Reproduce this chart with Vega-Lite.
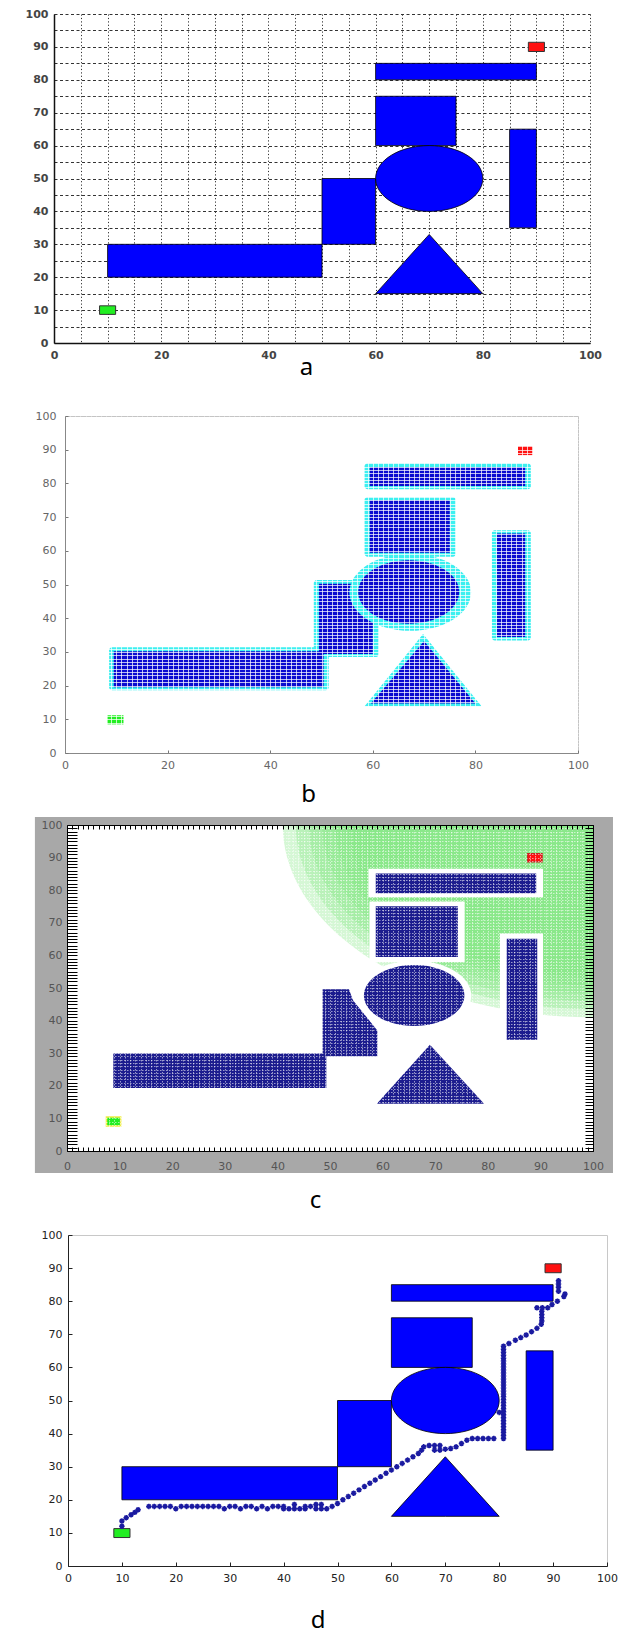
{
"$schema":"https://vega.github.io/schema/vega-lite/v6.json",
"background":"white",
"padding":{"left":5,"top":8,"right":5,"bottom":0},
"spacing":10,
"config":{"view":{"stroke":null},"axis":{"labelFont":"DejaVu Sans","labelFontSize":11,"titleFont":"Noto Sans","titleFontSize":24,"titleFontWeight":"normal","titleColor":"#000","labelFlush":false,"labelOverlap":false,"titleBaseline":"top","titleAlign":"center"}},
"vconcat":[
{"spacing":0,"hconcat":[
{"width":4,"height":10,"data":{"values":[]},"mark":"rect"},
{
"width":536,"height":329,
"encoding":{
 "x":{"field":"x","type":"quantitative","scale":{"domain":[0,100],"nice":false,"zero":false},"axis":{"tickCount":20,"grid":true,"gridColor":"#333","gridDash":[1.2,2.2],"gridWidth":1,"ticks":false,"domainColor":"#111","domainWidth":1.5,"labelExpr":"datum.value % 20 === 0 ? datum.label : ''","labelFontWeight":"bold","labelColor":"#444","labelPadding":6,"title":["a"," "],"titleX":252,"titleY":12.5,"titleLineHeight":19.5}},
 "y":{"field":"y","type":"quantitative","scale":{"domain":[0,100],"nice":false,"zero":false},"axis":{"tickCount":20,"grid":true,"gridColor":"#333","gridDash":[3,2.5],"gridWidth":1,"ticks":false,"domainColor":"#111","domainWidth":1.5,"labelExpr":"datum.value % 10 === 0 ? datum.label : ''","labelFontWeight":"bold","labelColor":"#444","labelPadding":6,"minExtent":45,"title":null}}
},
"layer":[
 {"data":{"values":[{"x":10,"x2":50,"y":20,"y2":30},{"x":50,"x2":60,"y":30,"y2":50},{"x":60,"x2":75,"y":60,"y2":75},{"x":60,"x2":90,"y":80,"y2":85},{"x":85,"x2":90,"y":35,"y2":65}]},
  "mark":{"type":"rect","fill":"#0000ff","stroke":"#000","strokeWidth":0.8},
  "encoding":{"x2":{"field":"x2"},"y2":{"field":"y2"}}},
 {"data":{"values":[{"x":70,"y":50}]},
  "mark":{"type":"point","shape":"M-1,0C-1,-0.339,-0.552,-0.614,0,-0.614C0.552,-0.614,1,-0.339,1,0C1,0.339,0.552,0.614,0,0.614C-0.552,0.614,-1,0.339,-1,0Z","size":11490,"filled":true,"color":"#0000ff","stroke":"#000","strokeWidth":0.8,"opacity":1}},
 {"data":{"values":[{"x":60,"y":15,"y2":15},{"x":70,"y":33,"y2":15},{"x":80,"y":15,"y2":15}]},
  "mark":{"type":"area","color":"#0000ff","stroke":"#000","strokeWidth":0.8,"opacity":1},
  "encoding":{"y2":{"field":"y2"}}},
 {"data":{"values":[{"x":8.5,"x2":11.5,"y":8.7,"y2":11.3,"c":"start"},{"x":88.5,"x2":91.5,"y":88.6,"y2":91.4,"c":"goal"}]},
  "mark":{"type":"rect","stroke":"#333","strokeWidth":1},
  "encoding":{"x2":{"field":"x2"},"y2":{"field":"y2"},"fill":{"field":"c","type":"nominal","scale":{"domain":["start","goal"],"range":["#22ee22","#ff1111"]},"legend":null}}}
]
}]},
{"spacing":0,"hconcat":[
{"width":14,"height":10,"data":{"values":[]},"mark":"rect"},
{
"width":513,"height":337,
"view":{"stroke":"#c4c4c4"},
"encoding":{
 "x":{"field":"x","type":"quantitative","scale":{"domain":[0,100],"nice":false,"zero":false},"axis":{"zindex":1,"tickCount":100,"grid":true,"gridColor":"#ffffff","gridWidth":0.8,"gridOpacity":{"condition":{"test":"datum.value === 0 || datum.value === 100","value":0},"value":0.9},"ticks":true,"tickSize":-3,"tickColor":"#777","tickOpacity":{"condition":{"test":"datum.value % 20 === 0","value":1},"value":0},"domainColor":"#888","labelExpr":"datum.value % 20 === 0 ? datum.label : ''","labelColor":"#666","labelPadding":9.3,"title":"b","titleX":243,"titleY":29}},
 "y":{"field":"y","type":"quantitative","scale":{"domain":[0,100],"nice":false,"zero":false},"axis":{"zindex":1,"tickCount":100,"grid":true,"gridColor":"#ffffff","gridWidth":0.8,"gridOpacity":{"condition":{"test":"datum.value === 0 || datum.value === 100","value":0},"value":0.9},"ticks":true,"tickSize":-3,"tickColor":"#777","tickOpacity":{"condition":{"test":"datum.value % 10 === 0","value":1},"value":0},"domainColor":"#888","labelExpr":"datum.value % 10 === 0 ? datum.label : ''","labelColor":"#666","labelPadding":12,"minExtent":45,"title":null}}
},
"layer":[
 {"data":{"values":[{"x":8.6,"x2":51.4,"y":18.6,"y2":31.4},{"x":48.5,"x2":61.2,"y":28.5,"y2":51.3},{"x":58.4,"x2":76.2,"y":58.2,"y2":76},{"x":58.4,"x2":90.8,"y":78.3,"y2":86},{"x":83.2,"x2":90.8,"y":33.4,"y2":66.1}]},
  "mark":{"type":"rect","fill":"#3cf0f0","cornerRadius":3},
  "encoding":{"x2":{"field":"x2"},"y2":{"field":"y2"}}},
 {"data":{"values":[{"x":9.5,"x2":50.4,"y":19.5,"y2":30.2},{"x":49.5,"x2":60,"y":29.4,"y2":50.2},{"x":59.4,"x2":75,"y":59.4,"y2":75},{"x":59.4,"x2":89.7,"y":79.2,"y2":84.9},{"x":84.2,"x2":89.7,"y":34.4,"y2":65.1}]},
  "mark":{"type":"rect","fill":"#0c0cd0"},
  "encoding":{"x2":{"field":"x2"},"y2":{"field":"y2"}}},
 {"data":{"values":[{"x":67.3,"y":47.7}]},
  "mark":{"type":"point","shape":"M-1,0C-1,-0.351,-0.552,-0.635,0,-0.635C0.552,-0.635,1,-0.351,1,0C1,0.351,0.552,0.635,0,0.635C-0.552,0.635,-1,0.351,-1,0Z","size":14787,"filled":true,"color":"#3cf0f0","opacity":1}},
 {"data":{"values":[{"x":67.0,"y":47.8}]},
  "mark":{"type":"point","shape":"M-1,0C-1,-0.347,-0.552,-0.628,0,-0.628C0.552,-0.628,1,-0.347,1,0C1,0.347,0.552,0.628,0,0.628C-0.552,0.628,-1,0.347,-1,0Z","size":10201,"filled":true,"color":"#0c0cd0","opacity":1}},
 {"data":{"values":[{"x":58.4,"y":13.9,"y2":13.9},{"x":69.8,"y":35.3,"y2":13.9},{"x":81.2,"y":13.9,"y2":13.9}]},
  "mark":{"type":"area","color":"#3cf0f0","opacity":1},
  "encoding":{"y2":{"field":"y2"}}},
 {"data":{"values":[{"x":59.6,"y":14.7,"y2":14.7},{"x":70,"y":33.2,"y2":14.7},{"x":80,"y":14.7,"y2":14.7}]},
  "mark":{"type":"area","color":"#0c0cd0","opacity":1},
  "encoding":{"y2":{"field":"y2"}}},
 {"data":{"values":[{"x":8.3,"x2":11.4,"y":8.5,"y2":11.2,"c":"start"},{"x":88.3,"x2":91.2,"y":88.4,"y2":91.1,"c":"goal"}]},
  "mark":{"type":"rect"},
  "encoding":{"x2":{"field":"x2"},"y2":{"field":"y2"},"fill":{"field":"c","type":"nominal","scale":{"domain":["start","goal"],"range":["#30d830","#d82020"]},"legend":null}}}
]
}]},
{"spacing":0,"hconcat":[
{"width":17,"height":10,"data":{"values":[]},"mark":"rect"},
{
"width":526,"height":326,
"resolve":{"axis":{"x":"independent","y":"independent"}},
"layer":[
 {"data":{"values":[{"x":-6.1,"x2":103.8,"y":-6.75,"y2":102.45}]},
  "mark":{"type":"rect","fill":"#a8a8a8"},
  "encoding":{
   "x":{"field":"x","type":"quantitative","scale":{"domain":[0,100],"nice":false,"zero":false},"axis":{"orient":"bottom","zindex":1,"tickCount":100,"format":"d","grid":false,"ticks":true,"tickSize":-4,"tickColor":"#000","domainColor":"#000","labelExpr":"datum.value % 10 === 0 ? datum.label : ''","labelColor":"#555","labelPadding":13,"title":["c"," "],"titleX":248,"titleY":37,"titleLineHeight":6}},
   "x2":{"field":"x2"},
   "y":{"field":"y","type":"quantitative","scale":{"domain":[0,100],"nice":false,"zero":false},"axis":{"orient":"left","zindex":1,"tickCount":200,"format":"d","grid":false,"ticks":true,"tickSize":-10,"tickColor":"#000","domainColor":"#000","labelExpr":"datum.value % 10 === 0 ? datum.label : ''","labelColor":"#555","labelPadding":15,"minExtent":45,"title":null}},
   "y2":{"field":"y2"}}},
 {"data":{"values":[{"x":0,"x2":100,"y":0,"y2":100}]},
  "mark":{"type":"rect","fill":"#ffffff"},
  "encoding":{
   "x":{"field":"x","type":"quantitative","scale":{"domain":[0,100],"nice":false,"zero":false},"axis":{"orient":"top","zindex":1,"tickCount":100,"grid":true,"gridColor":"#ffffff","gridWidth":0.7,"gridOpacity":0.8,"gridDash":[1.5,1.5],"ticks":true,"tickSize":-4,"tickColor":"#000","domainColor":"#000","labels":false,"title":null}},
   "x2":{"field":"x2"},
   "y":{"field":"y","type":"quantitative","scale":{"domain":[0,100],"nice":false,"zero":false},"axis":{"orient":"right","zindex":1,"tickCount":100,"grid":true,"gridColor":"#ffffff","gridWidth":0.7,"gridOpacity":0.8,"gridDash":[1.5,1.5],"ticks":true,"tickSize":-8,"tickColor":"#000","domainColor":"#000","labels":false,"title":null}},
   "y2":{"field":"y2"}}},
 {"data":{"values":[{"x":100,"y":100}]},
  "mark":{"type":"point","clip":true,"shape":"M-1,0C-1,-0.342,-0.552,-0.62,0,-0.62C0.552,-0.62,1,-0.342,1,0C1,0.342,0.552,0.62,0,0.62C-0.552,0.62,-1,0.342,-1,0Z","size":385000,"filled":true,"color":"#7ee67e","opacity":0.33},
  "encoding":{"x":{"field":"x","type":"quantitative","scale":{"domain":[0,100],"nice":false,"zero":false},"axis":null},"y":{"field":"y","type":"quantitative","scale":{"domain":[0,100],"nice":false,"zero":false},"axis":null}}},
 {"data":{"values":[{"x":100,"y":100}]},
  "mark":{"type":"point","clip":true,"shape":"M-1,0C-1,-0.342,-0.552,-0.62,0,-0.62C0.552,-0.62,1,-0.342,1,0C1,0.342,0.552,0.62,0,0.62C-0.552,0.62,-1,0.342,-1,0Z","size":353300,"filled":true,"color":"#7ee67e","opacity":0.33},
  "encoding":{"x":{"field":"x","type":"quantitative","scale":{"domain":[0,100],"nice":false,"zero":false},"axis":null},"y":{"field":"y","type":"quantitative","scale":{"domain":[0,100],"nice":false,"zero":false},"axis":null}}},
 {"data":{"values":[{"x":100,"y":100}]},
  "mark":{"type":"point","clip":true,"shape":"M-1,0C-1,-0.342,-0.552,-0.62,0,-0.62C0.552,-0.62,1,-0.342,1,0C1,0.342,0.552,0.62,0,0.62C-0.552,0.62,-1,0.342,-1,0Z","size":322700,"filled":true,"color":"#7ee67e","opacity":0.33},
  "encoding":{"x":{"field":"x","type":"quantitative","scale":{"domain":[0,100],"nice":false,"zero":false},"axis":null},"y":{"field":"y","type":"quantitative","scale":{"domain":[0,100],"nice":false,"zero":false},"axis":null}}},
 {"data":{"values":[{"x":100,"y":100}]},
  "mark":{"type":"point","clip":true,"shape":"M-1,0C-1,-0.342,-0.552,-0.62,0,-0.62C0.552,-0.62,1,-0.342,1,0C1,0.342,0.552,0.62,0,0.62C-0.552,0.62,-1,0.342,-1,0Z","size":293500,"filled":true,"color":"#7ee67e","opacity":0.33},
  "encoding":{"x":{"field":"x","type":"quantitative","scale":{"domain":[0,100],"nice":false,"zero":false},"axis":null},"y":{"field":"y","type":"quantitative","scale":{"domain":[0,100],"nice":false,"zero":false},"axis":null}}},
 {"data":{"values":[{"x":100,"y":100}]},
  "mark":{"type":"point","clip":true,"shape":"M-1,0C-1,-0.342,-0.552,-0.62,0,-0.62C0.552,-0.62,1,-0.342,1,0C1,0.342,0.552,0.62,0,0.62C-0.552,0.62,-1,0.342,-1,0Z","size":265700,"filled":true,"color":"#7ee67e","opacity":0.33},
  "encoding":{"x":{"field":"x","type":"quantitative","scale":{"domain":[0,100],"nice":false,"zero":false},"axis":null},"y":{"field":"y","type":"quantitative","scale":{"domain":[0,100],"nice":false,"zero":false},"axis":null}}},
 {"data":{"values":[{"x":100,"y":100}]},
  "mark":{"type":"point","clip":true,"shape":"M-1,0C-1,-0.342,-0.552,-0.62,0,-0.62C0.552,-0.62,1,-0.342,1,0C1,0.342,0.552,0.62,0,0.62C-0.552,0.62,-1,0.342,-1,0Z","size":239200,"filled":true,"color":"#7ee67e","opacity":0.33},
  "encoding":{"x":{"field":"x","type":"quantitative","scale":{"domain":[0,100],"nice":false,"zero":false},"axis":null},"y":{"field":"y","type":"quantitative","scale":{"domain":[0,100],"nice":false,"zero":false},"axis":null}}},
 {"data":{"values":[{"x":57.5,"x2":75.6,"y":58,"y2":76.5},{"x":57.3,"x2":90.5,"y":77.8,"y2":86.6},{"x":82.3,"x2":90.5,"y":33,"y2":66.7}]},
  "mark":{"type":"rect","fill":"#ffffff"},
  "encoding":{"x":{"field":"x","type":"quantitative","scale":{"domain":[0,100],"nice":false,"zero":false},"axis":null},"x2":{"field":"x2"},"y":{"field":"y","type":"quantitative","scale":{"domain":[0,100],"nice":false,"zero":false},"axis":null},"y2":{"field":"y2"}}},
 {"data":{"values":[{"x":66,"y":47.7}]},
  "mark":{"type":"point","shape":"M-1,0C-1,-0.336,-0.552,-0.608,0,-0.608C0.552,-0.608,1,-0.336,1,0C1,0.336,0.552,0.608,0,0.608C-0.552,0.608,-1,0.336,-1,0Z","size":13042,"filled":true,"color":"#ffffff","opacity":1},
  "encoding":{"x":{"field":"x","type":"quantitative","scale":{"domain":[0,100],"nice":false,"zero":false},"axis":null},"y":{"field":"y","type":"quantitative","scale":{"domain":[0,100],"nice":false,"zero":false},"axis":null}}},
 {"data":{"values":[{"x":8.8,"x2":49.3,"y":19.3,"y2":29.9},{"x":58.7,"x2":74.3,"y":59.5,"y2":75.1},{"x":58.7,"x2":89.2,"y":79.1,"y2":85.1},{"x":83.6,"x2":89.4,"y":34.1,"y2":65.1}]},
  "mark":{"type":"rect","fill":"#1c1c8e"},
  "encoding":{"x":{"field":"x","type":"quantitative","scale":{"domain":[0,100],"nice":false,"zero":false},"axis":null},"x2":{"field":"x2"},"y":{"field":"y","type":"quantitative","scale":{"domain":[0,100],"nice":false,"zero":false},"axis":null},"y2":{"field":"y2"}}},
 {"data":{"values":[{"x":48.6,"y":49.6,"y2":29.1},{"x":53.6,"y":49.6,"y2":29.1},{"x":54.4,"y":46.2,"y2":29.1},{"x":59,"y":37,"y2":29.1}]},
  "mark":{"type":"area","color":"#1c1c8e","opacity":1},
  "encoding":{"x":{"field":"x","type":"quantitative","scale":{"domain":[0,100],"nice":false,"zero":false},"axis":null},"y":{"field":"y","type":"quantitative","scale":{"domain":[0,100],"nice":false,"zero":false},"axis":null},"y2":{"field":"y2"}}},
 {"data":{"values":[{"x":66,"y":47.7}]},
  "mark":{"type":"point","shape":"M-1,0C-1,-0.335,-0.552,-0.607,0,-0.607C0.552,-0.607,1,-0.335,1,0C1,0.335,0.552,0.607,0,0.607C-0.552,0.607,-1,0.335,-1,0Z","size":10100,"filled":true,"color":"#1c1c8e","opacity":1},
  "encoding":{"x":{"field":"x","type":"quantitative","scale":{"domain":[0,100],"nice":false,"zero":false},"axis":null},"y":{"field":"y","type":"quantitative","scale":{"domain":[0,100],"nice":false,"zero":false},"axis":null}}},
 {"data":{"values":[{"x":58.9,"y":14.5,"y2":14.5},{"x":69,"y":32.6,"y2":14.5},{"x":79.3,"y":14.5,"y2":14.5}]},
  "mark":{"type":"area","color":"#1c1c8e","opacity":1},
  "encoding":{"x":{"field":"x","type":"quantitative","scale":{"domain":[0,100],"nice":false,"zero":false},"axis":null},"y":{"field":"y","type":"quantitative","scale":{"domain":[0,100],"nice":false,"zero":false},"axis":null},"y2":{"field":"y2"}}},
 {"data":{"values":[{"x":7.5,"x2":10.2,"y":7.7,"y2":10.4,"c":"start"},{"x":87.6,"x2":90.3,"y":88.7,"y2":91.2,"c":"goal"}]},
  "mark":{"type":"rect","strokeWidth":1.5},
  "encoding":{"x":{"field":"x","type":"quantitative","scale":{"domain":[0,100],"nice":false,"zero":false},"axis":null},"x2":{"field":"x2"},"y":{"field":"y","type":"quantitative","scale":{"domain":[0,100],"nice":false,"zero":false},"axis":null},"y2":{"field":"y2"},
   "fill":{"field":"c","type":"nominal","scale":{"domain":["start","goal"],"range":["#ffff55","#66e0e0"]},"legend":null},
   "stroke":{"field":"c","type":"nominal","scale":{"domain":["start","goal"],"range":["#eeee44","#cc2222"]},"legend":null}}}
]
}]},
{"spacing":0,"hconcat":[
{"width":17,"height":10,"data":{"values":[]},"mark":"rect"},
{
"width":539,"height":331,
"view":{"stroke":"#c8c8c8"},
"encoding":{
 "x":{"field":"x","type":"quantitative","scale":{"domain":[0,100],"nice":false,"zero":false},"axis":{"tickCount":10,"grid":false,"ticks":true,"tickSize":-4,"tickColor":"#222","domainColor":"#222","labelColor":"#222","labelPadding":10.3,"title":"d","titleX":249.6,"titleY":42}},
 "y":{"field":"y","type":"quantitative","scale":{"domain":[0,100],"nice":false,"zero":false},"axis":{"tickCount":10,"grid":false,"ticks":true,"tickSize":-4,"tickColor":"#222","domainColor":"#222","labelColor":"#222","labelPadding":10,"minExtent":45,"title":null}}
},
"layer":[
 {"data":{"values":[{"x":10,"x2":50,"y":20,"y2":30},{"x":50,"x2":60,"y":30,"y2":50},{"x":60,"x2":75,"y":60,"y2":75},{"x":60,"x2":90,"y":80,"y2":85},{"x":85,"x2":90,"y":35,"y2":65}]},
  "mark":{"type":"rect","fill":"#0000ff","stroke":"#000","strokeWidth":0.8},
  "encoding":{"x2":{"field":"x2"},"y2":{"field":"y2"}}},
 {"data":{"values":[{"x":70,"y":50}]},
  "mark":{"type":"point","shape":"M-1,0C-1,-0.339,-0.552,-0.614,0,-0.614C0.552,-0.614,1,-0.339,1,0C1,0.339,0.552,0.614,0,0.614C-0.552,0.614,-1,0.339,-1,0Z","size":11621,"filled":true,"color":"#0000ff","stroke":"#000","strokeWidth":0.8,"opacity":1}},
 {"data":{"values":[{"x":60,"y":15,"y2":15},{"x":70,"y":33,"y2":15},{"x":80,"y":15,"y2":15}]},
  "mark":{"type":"area","color":"#0000ff","stroke":"#000","strokeWidth":0.8,"opacity":1},
  "encoding":{"y2":{"field":"y2"}}},
 {"data":{"values":[{"x":8.5,"x2":11.5,"y":8.6,"y2":11.3,"c":"start"},{"x":88.5,"x2":91.5,"y":88.6,"y2":91.3,"c":"goal"}]},
  "mark":{"type":"rect","stroke":"#333","strokeWidth":1},
  "encoding":{"x2":{"field":"x2"},"y2":{"field":"y2"},"fill":{"field":"c","type":"nominal","scale":{"domain":["start","goal"],"range":["#22ee22","#ff1111"]},"legend":null}}},
 {"data":{"values":[
  {"x":10,"y":12},{"x":10,"y":13.6},{"x":10.8,"y":14.6},{"x":11.7,"y":15.5},{"x":12.4,"y":16.2},{"x":13,"y":17},
  {"x":15,"y":18},{"x":16,"y":18},{"x":17,"y":18},{"x":18,"y":18},{"x":19,"y":18},{"x":20,"y":17.3},{"x":21,"y":18},{"x":22,"y":18},{"x":23,"y":18},{"x":24,"y":18},{"x":25,"y":18},{"x":26,"y":18},{"x":27,"y":18},{"x":28,"y":18},{"x":29,"y":17.3},{"x":30,"y":18},{"x":31,"y":18},{"x":32,"y":17.3},{"x":33,"y":18},{"x":34,"y":18},{"x":35,"y":17.3},{"x":36,"y":18},{"x":37,"y":17.3},{"x":38,"y":18},{"x":39,"y":18},{"x":40,"y":18},{"x":40,"y":17.3},{"x":41,"y":17.3},{"x":42,"y":18.6},{"x":42,"y":17.3},{"x":43,"y":17.3},{"x":44,"y":18},{"x":44,"y":17.3},{"x":45,"y":18},{"x":46,"y":18.6},{"x":46,"y":17.3},{"x":47,"y":18.6},{"x":47,"y":17.3},{"x":48,"y":17.3},{"x":49,"y":18},
  {"x":50,"y":18.9},{"x":51,"y":20},{"x":52,"y":21},{"x":53,"y":22},{"x":54,"y":23},{"x":55,"y":24},{"x":56,"y":25},{"x":57,"y":26},{"x":58,"y":27},{"x":59,"y":28},{"x":60,"y":29},{"x":61,"y":30},{"x":62,"y":31},{"x":63,"y":32},{"x":64,"y":33},{"x":65,"y":34},{"x":65.6,"y":35},{"x":66,"y":36},{"x":67,"y":36.4},{"x":68,"y":36.4},{"x":68,"y":35},{"x":69,"y":36.4},{"x":69,"y":35},{"x":70,"y":35.3},{"x":71,"y":35.5},{"x":72,"y":36},{"x":73,"y":37},{"x":74,"y":38},{"x":75,"y":38.5},{"x":76,"y":38.5},{"x":77,"y":38.5},{"x":78,"y":38.5},{"x":79,"y":38.5},
  {"x":80.8,"y":38.5},{"x":80.8,"y":39.4},{"x":80.8,"y":40.3},{"x":80.8,"y":41.2},{"x":80.8,"y":42.1},{"x":80.8,"y":43},{"x":80.8,"y":43.9},{"x":80.8,"y":44.8},{"x":80.8,"y":45.7},{"x":80,"y":46.4},{"x":80.8,"y":46.6},{"x":80.8,"y":47.5},{"x":80.8,"y":48.4},{"x":80.8,"y":49.3},{"x":80.8,"y":50.2},{"x":80.8,"y":51.1},{"x":80.8,"y":52},{"x":80.8,"y":52.9},{"x":80.8,"y":53.8},{"x":80.8,"y":54.7},{"x":80.8,"y":55.6},{"x":80.8,"y":56.5},{"x":80.8,"y":57.4},{"x":80.8,"y":58.3},{"x":80.8,"y":59.2},{"x":80.8,"y":60.1},{"x":80.8,"y":61},{"x":80.8,"y":61.9},{"x":80.8,"y":62.8},{"x":80.8,"y":63.7},{"x":80.8,"y":64.6},{"x":80.8,"y":65.5},{"x":80.8,"y":66.4},
  {"x":81.8,"y":67.2},{"x":83,"y":68.2},{"x":84,"y":69},{"x":85,"y":69.8},{"x":86,"y":70.8},{"x":87,"y":71.8},{"x":87.8,"y":73},
  {"x":87.9,"y":74},{"x":87.9,"y":75},{"x":87.9,"y":76},{"x":87.9,"y":77},{"x":87,"y":78},{"x":88,"y":78},{"x":89,"y":78},
  {"x":89.8,"y":79},{"x":90.8,"y":80},{"x":92,"y":81.4},{"x":92.2,"y":82.2},{"x":91,"y":83},{"x":91,"y":84.2},{"x":91,"y":85.2},{"x":91,"y":86.2}
 ]},
  "mark":{"type":"point","shape":"M-1,0L1,0M0,-1L0,1M-0.7,-0.7L0.7,0.7M-0.7,0.7L0.7,-0.7","size":30,"filled":false,"color":"#1a1aa0","strokeWidth":1.5,"opacity":1}}
]
}]}
]
}
